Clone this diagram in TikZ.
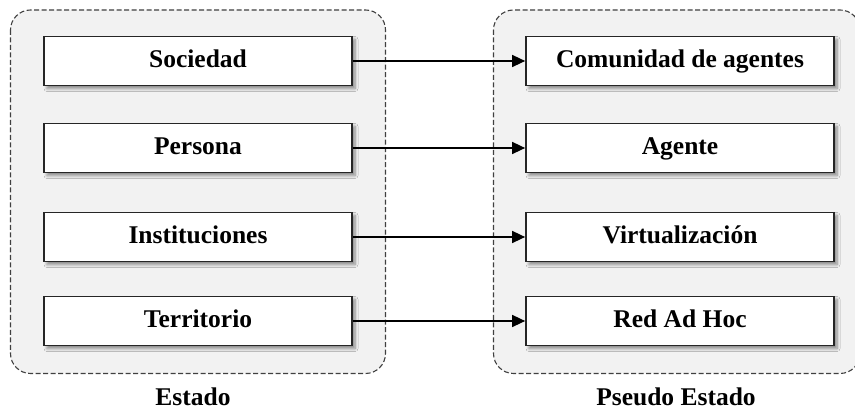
\documentclass[tikz,border=0pt]{standalone}
\usepackage{fontspec}
\setmainfont{Liberation Serif}
\usetikzlibrary{shadows.blur,arrows.meta}
\definecolor{panelgrey}{HTML}{F2F2F2}
\definecolor{dashgrey}{HTML}{404040}
\tikzset{
  panel/.style={draw=dashgrey, fill=panelgrey, dashed, dash pattern=on 5pt off 2.5pt,
    line width=1.1pt, rounded corners=20pt},
  itembox/.style={draw=black!85, fill=white, line width=1.7pt, minimum width=308pt,
    minimum height=49pt, inner sep=0pt, text height=17.5pt, text depth=3.5pt,
    font=\fontsize{25.5}{29}\selectfont\bfseries,
    blur shadow={shadow xshift=3pt, shadow yshift=-3pt, shadow blur steps=6,
      shadow blur radius=3pt, shadow opacity=45}},
  caption/.style={font=\fontsize{25.5}{29}\selectfont\bfseries, inner sep=0pt,
    text height=17.5pt, text depth=3.5pt},
  link/.style={line width=1.5pt, -{Triangle[length=13pt,width=12pt]}}
}
\begin{document}
\begin{tikzpicture}[x=1pt,y=-1pt]
  \useasboundingbox (0,0) rectangle (855,411);
  \fill[white] (0,0) rectangle (855,411);
  % grouping panels
  \draw[panel] (10.5,10) rectangle (385.5,373.5);
  \draw[panel] (493.5,10) rectangle (860,373.5);
  % left column
  \node[itembox] (soc) at (198,61) {Sociedad};
  \node[itembox] (per) at (198,148) {Persona};
  \node[itembox] (ins) at (198,237) {Instituciones};
  \node[itembox] (ter) at (198,321) {Territorio};
  % right column
  \node[itembox] (com) at (680,61) {Comunidad de agentes};
  \node[itembox] (age) at (680,148) {Agente};
  \node[itembox] (vir) at (680,237) {Virtualización};
  \node[itembox] (red) at (680,321) {Red Ad Hoc};
  % mappings
  \draw[link] (soc) -- (com);
  \draw[link] (per) -- (age);
  \draw[link] (ins) -- (vir);
  \draw[link] (ter) -- (red);
  % panel captions
  \node[caption] (est) at (193,399) {Estado};
  \node[caption] (pse) at (676,399) {Pseudo Estado};
\end{tikzpicture}
\end{document}
